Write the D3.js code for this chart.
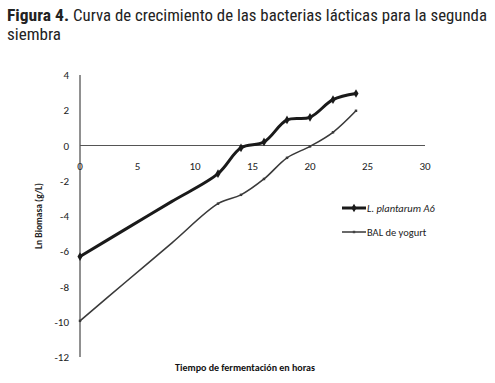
<!DOCTYPE html>
<html><head><meta charset="utf-8">
<script src="https://cdn.jsdelivr.net/npm/d3@7/dist/d3.min.js"></script>
<style>body{margin:0;background:#fff}</style>
</head><body>
<svg id="c" width="495" height="383"></svg>
<script>
const hours = [0, 4, 8, 12, 14, 16, 18, 20, 22, 24];
const plantarum = [-6.3, -4.73, -3.17, -1.6, -0.13, 0.2, 1.45, 1.6, 2.6, 2.95];
const yogurt = [-9.95, -7.73, -5.52, -3.3, -2.8, -1.9, -0.7, -0.05, 0.75, 1.97];
const xTicks = [0, 5, 10, 15, 20, 25, 30];
const yTicks = [4, 2, 0, -2, -4, -6, -8, -10, -12];
const seriesNames = ["L. plantarum A6", "BAL de yogurt"];

const svg = d3.select("#c");
const x = d3.scaleLinear().domain([0, 30]).range([80, 425]);
const y = d3.scaleLinear().domain([-12, 4]).range([357, 75]);

const tf = "'Roboto Condensed','Liberation Sans Narrow',Roboto,sans-serif";
const title = svg.append("text").attr("x", 7).attr("y", 21).attr("font-family", tf).attr("font-size", 17).attr("fill", "#222");
title.append("tspan").attr("font-weight", "bold").attr("textLength", 62).attr("lengthAdjust", "spacingAndGlyphs").text("Figura 4.");
title.append("tspan").attr("x", 73).attr("textLength", 414).attr("lengthAdjust", "spacingAndGlyphs").text("Curva de crecimiento de las bacterias lácticas para la segunda");
svg.append("text").attr("x", 7).attr("y", 40).attr("font-family", tf).attr("font-size", 17).attr("fill", "#222")
  .attr("textLength", 54).attr("lengthAdjust", "spacingAndGlyphs").text("siembra");

const cf = "Carlito,'Open Sans',sans-serif";
svg.append("line").attr("x1", x(0)).attr("x2", x(0)).attr("y1", y(4)).attr("y2", y(-12)).attr("stroke", "#222").attr("stroke-width", 1);
svg.append("line").attr("x1", x(0)).attr("x2", x(30)).attr("y1", y(0)).attr("y2", y(0)).attr("stroke", "#555").attr("stroke-width", 1.2);

svg.selectAll(".yt").data(yTicks).enter().append("text")
  .attr("x", 69).attr("y", d => y(d) + 4).attr("text-anchor", "end")
  .attr("font-family", cf).attr("font-size", 11).attr("fill", "#222").text(d => d);
svg.selectAll(".xt").data(xTicks).enter().append("text")
  .attr("x", d => x(d)).attr("y", y(0) + 24).attr("text-anchor", "middle")
  .attr("font-family", cf).attr("font-size", 11).attr("fill", "#222").text(d => d);

svg.append("text").attr("transform", `translate(42,${y(-4)}) rotate(-90)`).attr("text-anchor", "middle")
  .attr("font-family", cf).attr("font-size", 9.5).attr("font-weight", "bold").attr("fill", "#222").text("Ln Biomasa (g/L)");
svg.append("text").attr("x", 245).attr("y", 371).attr("text-anchor", "middle")
  .attr("font-family", cf).attr("font-size", 10).attr("font-weight", "bold").attr("fill", "#111").text("Tiempo de fermentación en horas");

const line = d3.line().x(d => x(d[0])).y(d => y(d[1])).curve(d3.curveCatmullRom.alpha(0.5));
const s1 = hours.map((h, i) => [h, plantarum[i]]);
const s2 = hours.map((h, i) => [h, yogurt[i]]);
svg.append("path").attr("d", line(s1)).attr("fill", "none").attr("stroke", "#1a1a1a").attr("stroke-width", 3);
svg.append("path").attr("d", line(s2)).attr("fill", "none").attr("stroke", "#3a3a3a").attr("stroke-width", 1.6);
const mk = hours.map((h, i) => i).filter(i => hours[i] === 0 || hours[i] >= 12);
svg.selectAll(".m1").data(mk.map(i => s1[i])).enter().append("path").attr("transform", d => `translate(${x(d[0])},${y(d[1])})`)
  .attr("d", d3.symbol(d3.symbolDiamond, 22)).attr("fill", "#1a1a1a");
svg.selectAll(".m2").data(mk.map(i => s2[i])).enter().append("path").attr("transform", d => `translate(${x(d[0])},${y(d[1])})`)
  .attr("d", d3.symbol(d3.symbolSquare, 6)).attr("fill", "#3a3a3a");

const lg = [{n: seriesNames[0], w: 3, c: "#1a1a1a", it: true, yy: 208, sym: d3.symbolDiamond, sz: 22},
            {n: seriesNames[1], w: 1.6, c: "#444", it: false, yy: 232, sym: d3.symbolSquare, sz: 6}];
lg.forEach(l => {
  svg.append("line").attr("x1", 342).attr("x2", 366).attr("y1", l.yy).attr("y2", l.yy).attr("stroke", l.c).attr("stroke-width", l.w);
  svg.append("path").attr("transform", `translate(354,${l.yy})`).attr("d", d3.symbol(l.sym, l.sz)).attr("fill", l.c);
  svg.append("text").attr("x", 367).attr("y", l.yy + 4).attr("font-family", cf).attr("font-size", 10.5)
    .attr("font-style", l.it ? "italic" : "normal").attr("fill", "#222").text(l.n);
});
</script>
</body></html>
